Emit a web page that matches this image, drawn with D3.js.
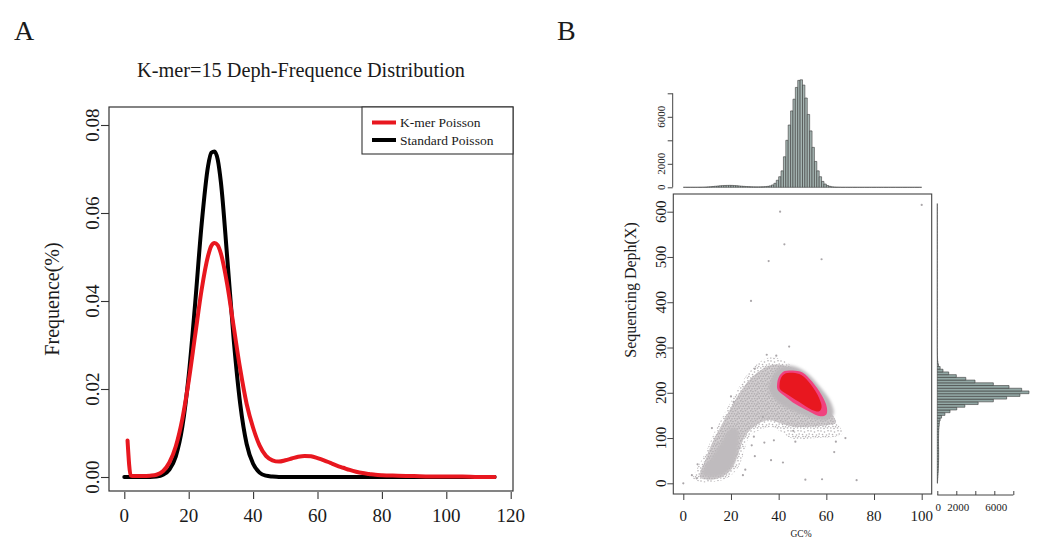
<!DOCTYPE html>
<html><head><meta charset="utf-8">
<script src="https://cdn.jsdelivr.net/npm/d3@7"></script>
<style>
body{margin:0;background:#fff}
svg{display:block}
text{font-family:"Liberation Serif","Times New Roman",serif;fill:#1a1a1a}
</style>
</head><body>
<svg id="c" width="1038" height="543"></svg>
<script>
// ---------------- DATA ----------------
// Panel A: depth-frequency curves
const kmerDepth = [1,2,3,4,6,8,10,12,14,16,18,20,22,24,26,27,28,29,30,32,34,36,38,40,42,44,46,48,50,52,54,56,58,60,62,64,66,68,70,72,74,76,78,80,85,90,95,100,105,110,115];
const kmerFreq  = [0.0083,0.0003,0.0002,0.0002,0.0002,0.0003,0.0005,0.0013,0.0033,0.0070,0.0131,0.0218,0.0322,0.0425,0.0502,0.0525,0.0532,0.0527,0.0508,0.0436,0.0340,0.0245,0.0166,0.0112,0.0072,0.0048,0.0038,0.0035,0.0038,0.0042,0.0046,0.0048,0.0047,0.0043,0.0038,0.0032,0.0026,0.0021,0.0016,0.0012,0.0009,0.0007,0.0005,0.0004,0.0003,0.0002,0.0001,0.0001,0.0001,0.0000,0.0000];
const stdDepth = [0,2,4,6,8,10,12,14,16,18,20,22,24,26,27,28,29,30,32,34,36,38,40,42,44,46,48,50,60,80,100,115];
const stdFreq  = [0,0,0,0,0,0.0001,0.0005,0.0017,0.0047,0.0113,0.0230,0.0394,0.0573,0.0706,0.0737,0.0740,0.0722,0.0670,0.0495,0.0310,0.0166,0.0075,0.0030,0.0010,0.0003,0.0001,0,0,0,0,0,0];
const aXTicks = [0,20,40,60,80,100,120];
const aYTicks = [0,0.02,0.04,0.06,0.08];
const seriesNames = ["K-mer Poisson","Standard Poisson"];

// Panel B: GC histogram (bins of 1 GC%, starting at 0)
const gcCounts = [
 0,0,0,0,0,0,2,5,10,20,
 35,50,70,90,110,130,145,155,160,165,
 160,150,135,115,95,80,65,55,45,40,
 35,35,40,45,60,80,120,200,340,600,
 900,1400,2600,4000,5300,6500,7500,8500,9100,9150,
 8700,7600,6200,4800,3400,2200,1400,900,500,280,
 150,80,40,20,10,5,0,0,0,0,
 0,0,0,0,0,0,0,0,0,0,
 0,0,0,0,0,0,0,0,0,0,
 0,0,0,0,0,0,0,0,0,0];
// Panel B: depth histogram (bins of 6X, starting at 0)
const depthCounts = [
 20,40,60,80,100,110,120,130,135,140,
 140,140,140,135,130,130,130,135,140,150,
 170,200,220,300,450,800,1340,2050,2900,4300,
 5900,7300,8700,9650,8880,7550,5900,3970,3000,2000,
 1200,600,300,120,60,30,15,8,5,3,
 0,0,0,0,0,0,0,0,0,0,
 0,0,0,0,0,0,0,0,0,0,
 0,0,0,0,0,0,0,0,0,0,
 0,0,0,0,0,0,0,0,0,0,
 0,0,0,0,0,0,0,0,0,0,
 0,0,0];
const gcBinWidth = 1, depthBinWidth = 6;
// Scatter density regions (GC%, depth)
const cloudOuter = [[4,12],[7,3],[12,3],[17,8],[21,22],[24,45],[26,80],[28,105],[32,118],[37,124],[41,114],[45,100],[50,97],[56,100],[62,102],[66,106],[67,112],[65,128],[62,145],[59,165],[56,188],[52,218],[48,244],[44,265],[40,276],[36,278],[32,268],[28,248],[24,218],[21,190],[17,152],[13,112],[10,75],[7,45],[5,25]];
const cloudMid = [[7,14],[11,8],[16,14],[20,30],[23,65],[26,105],[31,130],[36,140],[41,132],[46,125],[53,125],[60,128],[64,133],[63,148],[60,165],[56,192],[51,226],[46,250],[41,262],[36,260],[32,248],[28,230],[24,203],[20,168],[16,128],[12,88],[9,48]];
const cloudDenseMain = [[37,232],[40,254],[45,260],[51,247],[57,215],[62,178],[63,152],[60,140],[54,145],[46,160],[40,178],[36,205]];
const cloudDenseArm = [[8,20],[12,13],[17,20],[21,42],[23,80],[23,118],[20,122],[16,92],[12,60],[9,38]];
const cloudPink = [[39.4,222],[40.4,238],[42.5,248],[46,249],[50,245],[54,225],[58,195],[60.2,168],[60,152],[57.5,148],[53,158],[47,175],[42.5,193],[39.6,206]];
const cloudRed = [[40.4,220],[41.2,235],[43,243],[46,244],[49.5,239],[53.5,218],[57,188],[58,168],[57,159],[54,162],[48.5,180],[43.5,197],[40.6,208]];
const outliers = [[40.6,600],[42.4,528],[35.8,491],[58,495],[100,615],[28.4,403],[44.4,302],[0,0],[72.7,7],[58.2,9],[51.2,8],[41.8,46],[36.8,51],[63.3,69],[28.7,84],[29.6,103],[46.1,116],[33.4,147],[30,253],[21.1,180],[3.6,18],[5.6,11],[26,30],[25,18],[30,60],[34,90],[38,95],[68,100],[20,192],[12,122],[6,42],[35,284],[39,282],[64,92],[47,92]];
const bXTicks = [0,20,40,60,80,100];
const bYTicks = [0,100,200,300,400,500,600];
const histTicks = [0,2000,4000,6000,8000];
const histTickLabels = ["0","2000","","6000",""];

// ---------------- DRAW ----------------
const svg = d3.select('#c');
svg.append('rect').attr('width',1038).attr('height',543).attr('fill','#fff');
const defs = svg.append('defs');
// speckle textures for the point cloud (style only)
const sparseDots = [[1,1],[4.5,2],[8,0.8],[2.5,4.5],[6.5,5],[9.2,4],[0.8,8],[4,8.5],[7.5,8],[5.5,6.8],[3,6.5],[8.8,6.5]];
const midDots = [[0.8,0.8],[3,1.5],[5.5,0.7],[8,2],[1.8,3.5],[4.5,3.8],[7,4.2],[9.3,3.5],[0.7,6],[3.2,6.2],[5.8,5.8],[8.5,6.5],[2,8.8],[4.6,8.5],[7.2,8.9],[9.4,8.2]];
const pS = defs.append('pattern').attr('id','pSparse').attr('width',10).attr('height',10).attr('patternUnits','userSpaceOnUse');
sparseDots.forEach(p=>pS.append('circle').attr('cx',p[0]).attr('cy',p[1]).attr('r',0.8).attr('fill','#b3afb2'));
const pM = defs.append('pattern').attr('id','pMid').attr('width',10).attr('height',10).attr('patternUnits','userSpaceOnUse');
pM.append('rect').attr('width',10).attr('height',10).attr('fill','#d3cfd1');
midDots.forEach(p=>pM.append('circle').attr('cx',p[0]).attr('cy',p[1]).attr('r',0.85).attr('fill','#b2aeb1'));
defs.append('filter').attr('id','blur1').attr('x','-20%').attr('y','-20%').attr('width','140%').attr('height','140%')
  .append('feGaussianBlur').attr('stdDeviation',0.7);
defs.append('filter').attr('id','blur2').attr('x','-20%').attr('y','-20%').attr('width','140%').attr('height','140%')
  .append('feGaussianBlur').attr('stdDeviation',1.8);

// ---- Panel A ----
const xA = d3.scaleLinear().domain([0,120]).range([124.3,510.7]);
const yA = d3.scaleLinear().domain([0,0.08]).range([477,125]);
const gA = svg.append('g');
gA.append('text').attr('x',14).attr('y',40).attr('font-size',28).text('A');
gA.append('text').attr('x',301).attr('y',77).attr('text-anchor','middle').attr('font-size',20.3)
  .text('K-mer=15 Deph-Frequence Distribution');
gA.append('rect').attr('x',109).attr('y',107).attr('width',404).attr('height',384)
  .attr('fill','none').attr('stroke','#333').attr('stroke-width',1.2);

const yAxA = gA.append('g').attr('transform','translate(109,0)')
  .call(d3.axisLeft(yA).tickValues(aYTicks).tickSize(8).tickFormat(''));
yAxA.select('.domain').remove();
yAxA.selectAll('.tick line').attr('stroke','#333').attr('stroke-width',1.1);
gA.selectAll('.ylabA').data(aYTicks).enter().append('text')
  .attr('transform',d=>`translate(92,${yA(d)}) rotate(-90)`)
  .attr('text-anchor','middle').attr('dy','0.35em').attr('font-size',19)
  .text(d=>d3.format('.2f')(d));
const xAxA = gA.append('g').attr('transform','translate(0,492)')
  .call(d3.axisBottom(xA).tickValues(aXTicks).tickSize(7).tickFormat(''));
xAxA.select('.domain').remove();
xAxA.selectAll('.tick line').attr('stroke','#333').attr('stroke-width',1.1);
gA.selectAll('.xlabA').data(aXTicks).enter().append('text')
  .attr('x',d=>xA(d)).attr('y',522).attr('text-anchor','middle').attr('font-size',19).text(d=>d);
gA.append('text').attr('transform','translate(52,299) rotate(-90)').attr('text-anchor','middle')
  .attr('dy','0.35em').attr('font-size',20).text('Frequence(%)');

const lineA = d3.line().x(d=>xA(d[0])).y(d=>yA(d[1])).curve(d3.curveMonotoneX);
gA.append('path').attr('d',lineA(stdDepth.map((d,i)=>[d,stdFreq[i]])))
  .attr('fill','none').attr('stroke','#000').attr('stroke-width',4).attr('stroke-linejoin','round').attr('stroke-linecap','round');
gA.append('path').attr('d',lineA(kmerDepth.map((d,i)=>[d,kmerFreq[i]])))
  .attr('fill','none').attr('stroke','#e8171f').attr('stroke-width',4).attr('stroke-linejoin','round').attr('stroke-linecap','round');

// legend
gA.append('rect').attr('x',362).attr('y',107).attr('width',151).attr('height',47)
  .attr('fill','#fff').attr('stroke','#333').attr('stroke-width',1.1);
const legColors = ['#e8171f','#000'];
seriesNames.forEach((n,i)=>{
  const y = 122.5 + i*17.5;
  gA.append('line').attr('x1',372).attr('x2',396).attr('y1',y).attr('y2',y)
    .attr('stroke',legColors[i]).attr('stroke-width',4);
  gA.append('text').attr('x',400).attr('y',y+4.5).attr('font-size',13.5).text(n);
});

// ---- Panel B ----
const xB = d3.scaleLinear().domain([0,100]).range([683.3,921.7]);
const yB = d3.scaleLinear().domain([0,600]).range([483.3,211.7]);
const yT = d3.scaleLinear().domain([0,8000]).range([187.3,93.3]);
const xR = d3.scaleLinear().domain([0,8000]).range([937.3,1013.3]);
const gB = svg.append('g');
gB.append('text').attr('x',557).attr('y',40).attr('font-size',28).text('B');

// top histogram
gB.selectAll('.gcbar').data(gcCounts).enter().append('path')
  .attr('d',(c,i)=>{const x0=xB(i*gcBinWidth),x1=xB((i+1)*gcBinWidth),y0=yT(0),y1=yT(c);
     return `M${x0},${y0}V${y1}H${x1}V${y0}Z`;})
  .attr('fill','#a5b5b2').attr('stroke','#3a3a3a').attr('stroke-width',0.6);
const tAx = gB.append('g').attr('transform','translate(672.7,0)')
  .call(d3.axisLeft(yT).tickValues(histTicks).tickSize(5).tickFormat(''));
tAx.select('.domain').attr('d',`M0,${yT(0)}V${yT(8000)}`).attr('stroke','#444');
tAx.selectAll('.tick line').attr('stroke','#444');
gB.selectAll('.tlab').data(histTicks).enter().append('text')
  .attr('transform',d=>`translate(661.5,${yT(d)}) rotate(-90)`)
  .attr('text-anchor','middle').attr('dy','0.35em').attr('font-size',11)
  .text((d,i)=>histTickLabels[i]);

// scatter
const sLine = d3.line().x(d=>xB(d[0])).y(d=>yB(d[1])).curve(d3.curveCatmullRomClosed);
gB.append('path').attr('d',sLine(cloudOuter)).attr('fill','url(#pSparse)');
gB.append('path').attr('d',sLine(cloudMid)).attr('fill','url(#pMid)');
gB.append('path').attr('d',sLine(cloudDenseMain)).attr('fill','#bcb8bb').attr('filter','url(#blur2)');
gB.append('path').attr('d',sLine(cloudDenseArm)).attr('fill','#bfbbbe').attr('filter','url(#blur2)');
gB.append('path').attr('d',sLine(cloudPink)).attr('fill','#f0437f').attr('filter','url(#blur1)');
gB.append('path').attr('d',sLine(cloudRed)).attr('fill','#e8171f');
gB.selectAll('.out').data(outliers).enter().append('circle')
  .attr('cx',d=>xB(d[0])).attr('cy',d=>yB(d[1])).attr('r',1.1).attr('fill','#aaa6a9');

gB.append('rect').attr('x',673.3).attr('y',194).attr('width',258.4).attr('height',300)
  .attr('fill','none').attr('stroke','#444').attr('stroke-width',1.1);
const sxAx = gB.append('g').attr('transform','translate(0,494)')
  .call(d3.axisBottom(xB).tickValues(bXTicks).tickSize(6).tickFormat(''));
sxAx.select('.domain').remove();
sxAx.selectAll('.tick line').attr('stroke','#444');
gB.selectAll('.bxl').data(bXTicks).enter().append('text')
  .attr('x',d=>xB(d)).attr('y',520.5).attr('text-anchor','middle').attr('font-size',15).text(d=>d);
const syAx = gB.append('g').attr('transform','translate(673.3,0)')
  .call(d3.axisLeft(yB).tickValues(bYTicks).tickSize(6).tickFormat(''));
syAx.select('.domain').remove();
syAx.selectAll('.tick line').attr('stroke','#444');
gB.selectAll('.byl').data(bYTicks).enter().append('text')
  .attr('transform',d=>`translate(661,${yB(d)}) rotate(-90)`)
  .attr('text-anchor','middle').attr('dy','0.35em').attr('font-size',15).text(d=>d);
gB.append('text').attr('transform','translate(630,290) rotate(-90)').attr('text-anchor','middle')
  .attr('dy','0.35em').attr('font-size',16).text('Sequencing Deph(X)');
gB.append('text').attr('x',801).attr('y',537).attr('text-anchor','middle').attr('font-size',9.5).text('GC%');

// right histogram
gB.selectAll('.dbar').data(depthCounts).enter().append('path')
  .attr('d',(c,i)=>{const y0=yB(i*depthBinWidth),y1=yB((i+1)*depthBinWidth),x0=xR(0),x1=xR(c);
     return `M${x0},${y0}H${x1}V${y1}H${x0}Z`;})
  .attr('fill','#93a8a5').attr('stroke','#3a3a3a').attr('stroke-width',0.6);
const rAx = gB.append('g').attr('transform','translate(0,495)')
  .call(d3.axisBottom(xR).tickValues(histTicks).tickSize(-4).tickFormat(''));
rAx.select('.domain').attr('d',`M${xR(0)},0H${xR(8000)}`).attr('stroke','#444');
rAx.selectAll('.tick line').attr('stroke','#444');
gB.selectAll('.rl').data(histTicks).enter().append('text')
  .attr('x',d=>xR(d)+(d===0?1:2)).attr('y',510.5).attr('text-anchor','middle').attr('font-size',11)
  .text((d,i)=>histTickLabels[i]);
</script>
</body></html>
